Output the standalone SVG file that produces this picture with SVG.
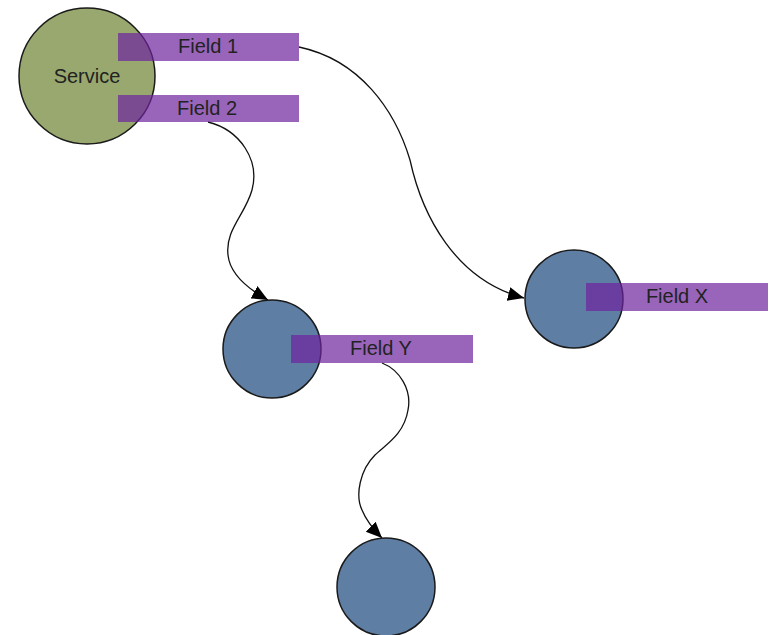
<svg xmlns="http://www.w3.org/2000/svg" width="769" height="635" viewBox="0 0 769 635">
<style>
.svc{fill:#98A86E;stroke:#1a1a1a;stroke-width:1.5}
.nd{fill:#5F7EA3;stroke:#1a1a1a;stroke-width:1.5}
.fld{fill:#6D249E;fill-opacity:0.7}
.lbl{font-family:"Liberation Sans",Arial,sans-serif;font-size:20px;fill:#222;text-anchor:middle}
.cn{fill:none;stroke:#111;stroke-width:1.3}
</style>
<defs>
<marker id="ah" markerUnits="userSpaceOnUse" markerWidth="18" markerHeight="16" refX="16" refY="8" orient="auto">
<path d="M0,1 L16,8 L0,15 Z" fill="#000"/>
</marker>
</defs>
<rect width="769" height="635" fill="#fff"/>
<g id="connectors">
<path class="cn" d="M299,47 C360,60 395,110 410,160 C422,215 455,280 524,298" marker-end="url(#ah)"/>
<path class="cn" d="M208,122 C240,130 260,160 252,190 C245,215 225,230 228,255 C230,275 250,290 268,300" marker-end="url(#ah)"/>
<path class="cn" d="M382,363 C400,370 412,390 408,410 C404,435 385,445 375,455 C360,470 355,495 362,510 C366,520 372,528 382,538" marker-end="url(#ah)"/>
</g>
<g id="service">
<circle class="svc" cx="87" cy="76" r="68"/>
<text class="lbl" x="87" y="83">Service</text>
</g>
<g id="field1">
<rect class="fld" x="118" y="33" width="181" height="28"/>
<text class="lbl" x="208" y="53">Field 1</text>
</g>
<g id="field2">
<rect class="fld" x="118" y="95" width="181" height="27"/>
<text class="lbl" x="207" y="115">Field 2</text>
</g>
<g id="nodeX">
<circle class="nd" cx="574" cy="299" r="49"/>
</g>
<g id="fieldX">
<rect class="fld" x="586" y="283" width="182" height="28"/>
<text class="lbl" x="677" y="303">Field X</text>
</g>
<g id="nodeY">
<circle class="nd" cx="272" cy="349" r="49"/>
</g>
<g id="fieldY">
<rect class="fld" x="291" y="335" width="182" height="28"/>
<text class="lbl" x="381" y="355">Field Y</text>
</g>
<g id="nodeZ">
<circle class="nd" cx="386" cy="587" r="49"/>
</g>
</svg>
